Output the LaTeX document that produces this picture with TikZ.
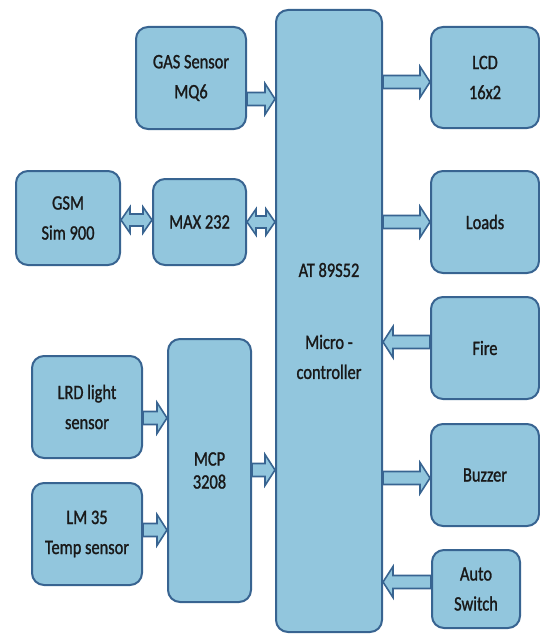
\documentclass[tikz,border=0pt]{standalone}
\usepackage{fontspec}
\newfontfamily\lblfont{Carlito}[FakeStretch=0.80,FakeBold=1.2]
\usetikzlibrary{calc}
\definecolor{boxfill}{RGB}{146,198,221}
\definecolor{boxline}{RGB}{56,100,145}
\definecolor{txt}{RGB}{25,25,25}
\tikzset{
  blk/.style={draw=boxline, fill=boxfill, line width=2pt, rounded corners=12pt,
    align=center, text=txt, font=\lblfont\fontsize{20.5}{30}\selectfont, inner sep=0pt},
  barrow/.style={draw=boxline, fill=boxfill, line width=1.6pt, line join=miter}
}
% one-headed block arrow from #1 to #2 (horizontal)
\newcommand\blkarrow[2]{%
  \draw[barrow] let \p1=(#1), \p2=(#2), \n1={sign(\x2-\x1)} in
   (\x1,\y1+6.5pt) -- (\x2-\n1*10pt,\y1+6.5pt) -- (\x2-\n1*10pt,\y1+15.5pt) -- (\x2,\y1)
   -- (\x2-\n1*10pt,\y1-15.5pt) -- (\x2-\n1*10pt,\y1-6.5pt) -- (\x1,\y1-6.5pt) -- cycle;}
% two-headed block arrow between #1 and #2 (horizontal)
\newcommand\dblarrow[2]{%
  \draw[barrow] let \p1=(#1), \p2=(#2), \n1={sign(\x2-\x1)} in
   (\x1,\y1) -- (\x1+\n1*9pt,\y1+13pt) -- (\x1+\n1*9pt,\y1+6pt) -- (\x2-\n1*9pt,\y1+6pt)
   -- (\x2-\n1*9pt,\y1+13pt) -- (\x2,\y1) -- (\x2-\n1*9pt,\y1-13pt) -- (\x2-\n1*9pt,\y1-6pt)
   -- (\x1+\n1*9pt,\y1-6pt) -- (\x1+\n1*9pt,\y1-13pt) -- cycle;}
\begin{document}
\begin{tikzpicture}[x=1pt,y=-1pt]
\useasboundingbox (0,0) rectangle (540,634);
% nodes
\node[blk, minimum width=106pt, minimum height=622pt] (mc) at (329,321)
  {AT 89S52\\[42pt]Micro -\\controller};
\node[blk, minimum width=110pt, minimum height=102pt] (gas) at (191,78) {GAS Sensor\\MQ6};
\node[blk, minimum width=104pt, minimum height=94pt] (gsm) at (68,218) {GSM\\Sim 900};
\node[blk, minimum width=93pt, minimum height=86pt] (max) at (199.5,222) {MAX 232};
\node[blk, minimum width=110pt, minimum height=102pt] (lrd) at (87,407) {LRD light\\sensor};
\node[blk, minimum width=110pt, minimum height=102pt] (lm) at (87,534) {LM 35\\Temp sensor};
\node[blk, minimum width=83pt, minimum height=263pt] (mcp) at (209.5,470.5) {MCP\\[-7pt]3208};
\node[blk, minimum width=108pt, minimum height=101pt] (lcd) at (485,77.5) {LCD\\16x2};
\node[blk, minimum width=108pt, minimum height=102pt] (loads) at (485,222) {Loads};
\node[blk, minimum width=108pt, minimum height=102pt] (fire) at (485,348) {Fire};
\node[blk, minimum width=108pt, minimum height=102pt] (buzzer) at (485,475) {Buzzer};
\node[blk, minimum width=88pt, minimum height=78pt] (auto) at (476,589) {Auto\\Switch};
% connectors
\blkarrow{gas.east |- 0,99}{mc.west |- 0,99}
\dblarrow{gsm.east |- 0,220}{max.west |- 0,220}
\dblarrow{max.east |- 0,222}{mc.west |- 0,222}
\blkarrow{lrd.east |- 0,418}{mcp.west |- 0,418}
\blkarrow{lm.east |- 0,530}{mcp.west |- 0,530}
\blkarrow{mcp.east |- 0,470}{mc.west |- 0,470}
\blkarrow{mc.east |- 0,82}{lcd.west |- 0,82}
\blkarrow{mc.east |- 0,222}{loads.west |- 0,222}
\blkarrow{fire.west |- 0,342}{mc.east |- 0,342}
\blkarrow{mc.east |- 0,478}{buzzer.west |- 0,478}
\blkarrow{auto.west |- 0,582}{mc.east |- 0,582}
\end{tikzpicture}
\end{document}
